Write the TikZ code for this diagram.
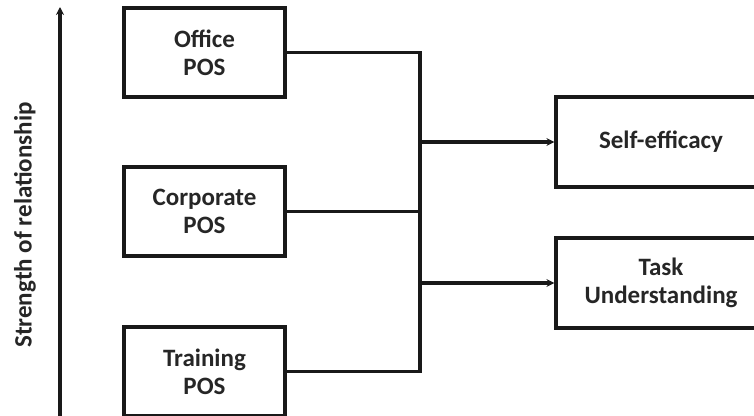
\documentclass[tikz,border=0pt]{standalone}
\usepackage{fontspec}
\setmainfont{Carlito}
\usetikzlibrary{arrows.meta}

\tikzset{
  posbox/.style={draw=black!90, line width=3.2pt, minimum width=161pt, minimum height=89pt,
    align=center, font=\fontsize{25}{28}\selectfont\bfseries, text=black!85, inner sep=0pt},
  outbox/.style={posbox, minimum width=210pt, minimum height=90pt},
  link/.style={line width=3.2pt, black!90},
  linkarrow/.style={link, -{Stealth[length=8pt,width=8pt]}}
}

\begin{document}
\begin{tikzpicture}[x=1pt, y=-1pt]
  \useasboundingbox (0,0) rectangle (754,415);
  \clip (0,0) rectangle (754,415);

  %%%%% AXIS %%%%%
  \coordinate (axisfoot) at (60,418);
  \coordinate (axistip) at (60,7);
  \draw[linkarrow] (axisfoot) -- (axistip);
  \node[rotate=90, font=\fontsize{25}{28}\selectfont\bfseries, text=black!85] (axislabel) at (25,225) {Strength of relationship};

  %%%%% SOURCES %%%%%
  \node[posbox] (office) at (204.5,52.5) {Office\\POS};
  \node[posbox] (corporate) at (204.5,211.5) {Corporate\\POS};
  \node[posbox] (training) at (204.5,371.5) {Training\\POS};

  %%%%% OUTCOMES %%%%%
  \node[outbox] (selfeff) at (661,142) {Self-efficacy};
  \node[outbox] (task) at (661,283) {Task\\Understanding};

  %%%%% LINKS %%%%%
  \coordinate (bustop) at (420,0 |- office.east);
  \draw[link] (office.east) -- (bustop |- office.east) -- (bustop |- training.east) -- (training.east);
  \draw[link] (corporate.east) -- (corporate.east -| bustop);
  \draw[linkarrow] (bustop |- selfeff.west) -- (selfeff.west);
  \draw[linkarrow] (bustop |- task.west) -- (task.west);
\end{tikzpicture}
\end{document}
